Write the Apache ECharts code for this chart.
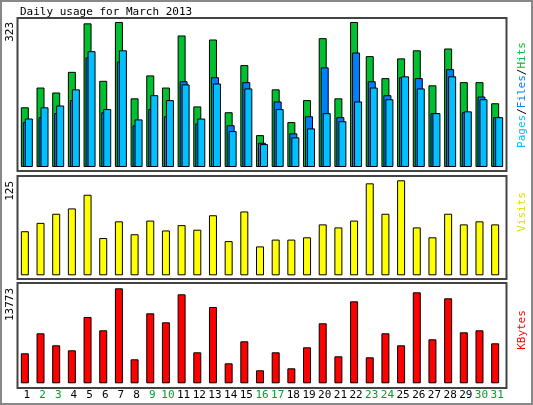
<!DOCTYPE html>
<html><head><meta charset="utf-8">
<script src="https://cdn.jsdelivr.net/npm/echarts@6/dist/echarts.min.js"></script>
<style>html,body{margin:0;padding:0;background:#fff}#c{width:533px;height:405px}</style>
</head><body><div id="c"></div>
<script>
const days = Array.from({length:31},(_,i)=>String(i+1));
const weekend = ['2','3','9','10','16','17','23','24','30','31'];
const hits  = [133,177,166,212,320,192,323,153,204,177,293,135,284,122,227,71,173,100,149,287,153,323,247,198,242,260,182,264,189,189,142];
const files = [100,111,120,149,244,122,235,93,129,113,191,97,200,93,189,54,146,75,113,222,111,255,191,160,200,198,120,218,122,157,111];
const pages = [108,133,137,173,258,129,260,106,160,149,184,108,186,80,175,51,129,66,86,120,102,146,177,151,202,175,120,202,124,151,111];
const visits = [58,69,81,88,106,49,71,54,72,59,66,60,79,45,84,38,47,47,50,67,63,72,121,81,125,63,50,81,67,71,67];
const kbytes = [4350,7249,5509,4784,9617,7684,13773,3479,10148,8844,12903,4494,11067,2900,6089,1885,4494,2175,5219,8699,3914,11888,3769,7249,5509,13193,6379,12323,7394,7684,5799];
const font = '"DejaVu Sans Mono", monospace';
const chart = echarts.init(document.getElementById('c'));
const bs = {borderColor:'#000',borderWidth:1};
const hx = i => ({type:'category',gridIndex:i,data:days,show:false,boundaryGap:true});
const hy = (i,max) => ({type:'value',gridIndex:i,min:0,max:max,show:false});
function frame(x,y,w,h){return {type:'rect',shape:{x:x,y:y,width:w,height:h},style:{fill:null,stroke:'#444',lineWidth:2},z:-1};}
function rtext(x,y,t,align,rich,color){return {type:'text',x:x,y:y,rotation:Math.PI/2,style:{text:t,font:'11px '+font,fill:color||'#000',align:align,verticalAlign:'middle',rich:rich}};}
const rr = c => ({fill:c,font:'11px '+font});
chart.setOption({
  animation:false,
  backgroundColor:'#fff',
  grid:[
    {left:19,width:486,top:22,height:145},
    {left:17,width:486,top:180.3,height:95},
    {left:17,width:486,top:288.3,height:95},
    {left:19,width:486,top:288.3,height:95}
  ],
  xAxis:[hx(0),hx(1),hx(2),{type:'category',gridIndex:3,data:days,boundaryGap:true,axisLine:{show:false},axisTick:{show:false},
    axisLabel:{margin:6,fontFamily:font,fontSize:11,interval:0,color:v=>weekend.includes(v)?'#00a030':'#000'}}],
  yAxis:[hy(0,323),hy(1,125),hy(2,13773),hy(3,13773)],
  series:[
    {type:'bar',xAxisIndex:0,yAxisIndex:0,data:hits,barWidth:8,barGap:'-75%',itemStyle:Object.assign({color:'#00c030'},bs)},
    {type:'bar',xAxisIndex:0,yAxisIndex:0,data:files,barWidth:8,barGap:'-75%',itemStyle:Object.assign({color:'#0080ff'},bs)},
    {type:'bar',xAxisIndex:0,yAxisIndex:0,data:pages,barWidth:8,barGap:'-75%',itemStyle:Object.assign({color:'#00c0ff'},bs)},
    {type:'bar',xAxisIndex:1,yAxisIndex:1,data:visits,barWidth:8,itemStyle:Object.assign({color:'#ffff00'},bs)},
    {type:'bar',xAxisIndex:2,yAxisIndex:2,data:kbytes,barWidth:8,itemStyle:Object.assign({color:'#ff0000'},bs)}
  ],
  graphic:[
    {type:'rect',shape:{x:1,y:1,width:531,height:403},style:{fill:null,stroke:'#888',lineWidth:2},z:-2},
    frame(17.5,18,489,153),
    frame(17.5,176,489,103),
    frame(17.5,283,489,105),
    {type:'text',x:20,y:12,style:{text:'Daily usage for March 2013',font:'11px '+font,fill:'#000',verticalAlign:'middle'}},
    rtext(10,22,'323','right'),
    rtext(10,181,'125','right'),
    rtext(10,288,'13773','right'),
    rtext(522,95,'{p|Pages}{k|/}{f|Files}{k|/}{h|Hits}','center',{p:rr('#00c0ff'),f:rr('#0080ff'),h:rr('#00c030'),k:rr('#000')}),
    rtext(522,42+170,'Visits','center',null,'#e0e000'),
    rtext(522,330,'KBytes','center',null,'#ff0000')
  ]
});
</script></body></html>
